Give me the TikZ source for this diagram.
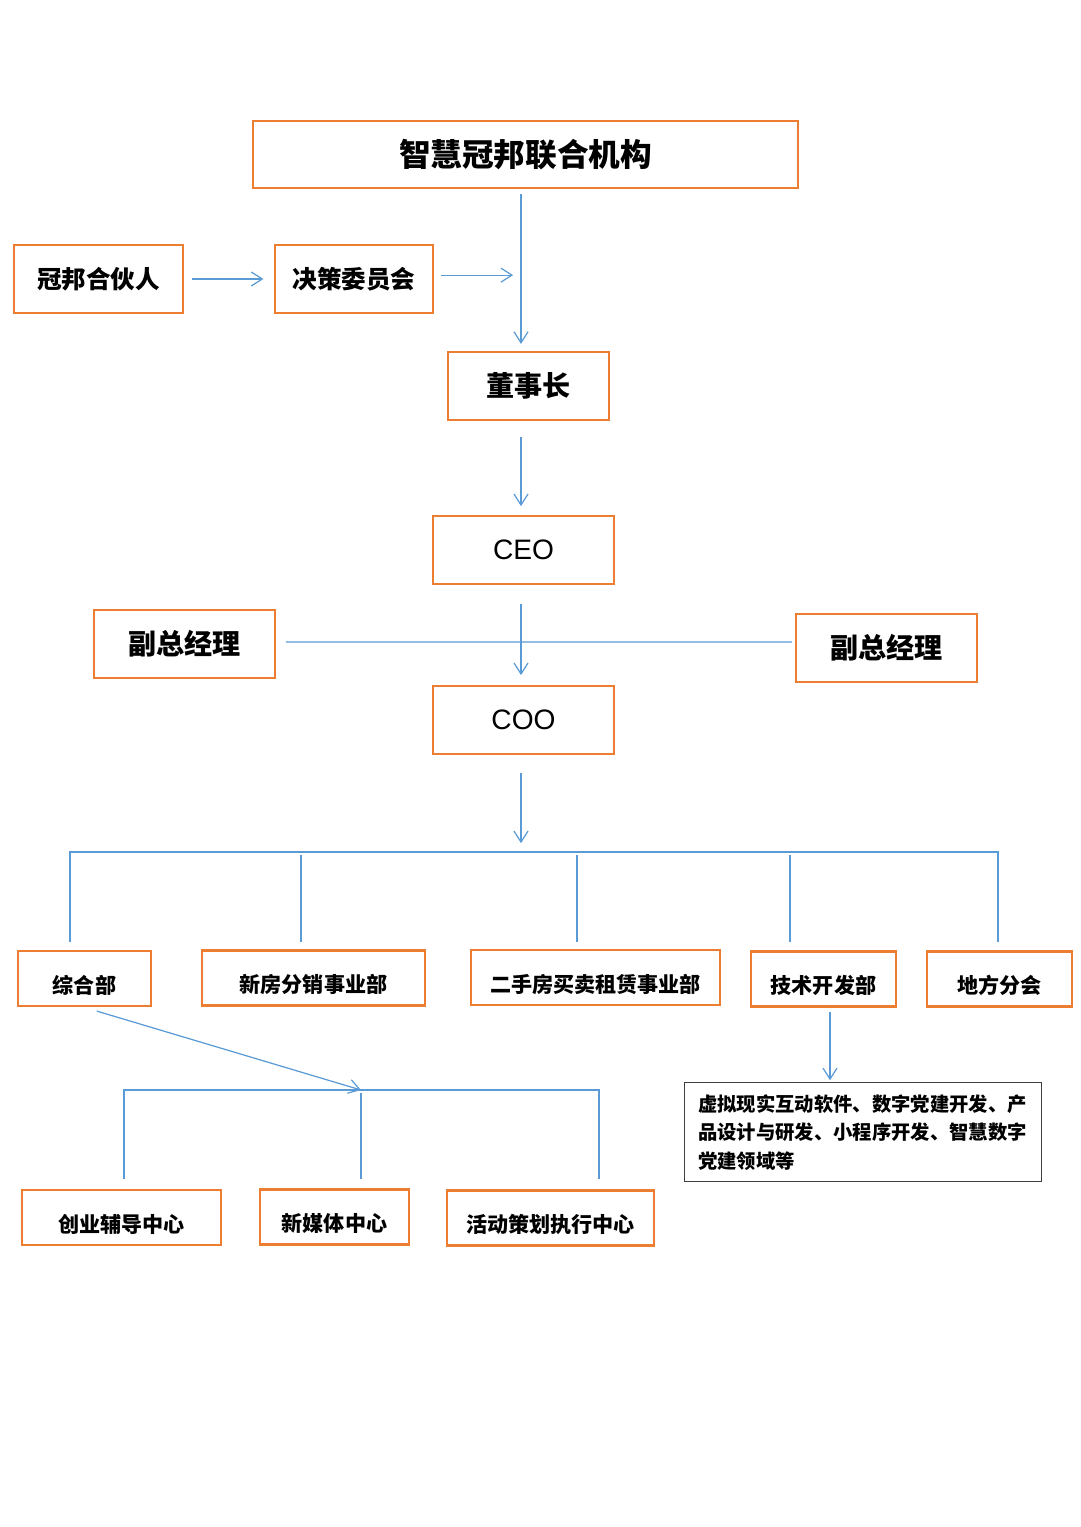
\documentclass[tikz,border=0pt]{standalone}
\usepackage{fontspec}
\setmainfont{Liberation Sans}
\newfontfamily\cjk{Noto Sans CJK SC}
\usetikzlibrary{arrows.meta,positioning}
\definecolor{boxorange}{HTML}{ED7D31}
\definecolor{lineblue}{HTML}{5B9BD5}

\begin{document}
\begin{tikzpicture}[
  x=0.02cm, y=-0.02cm,
  box/.style={draw=boxorange, line width=1.2pt, fill=white, inner sep=0pt, minimum height=1.36cm, font=\cjk\bfseries\fontsize{14}{17}\selectfont},
  big/.style={font=\cjk\bfseries\fontsize{16}{19}\selectfont},
  latin/.style={font=\fontsize{16}{19}\selectfont},
  dept/.style={box, minimum height=1.1cm, text height=17pt, text depth=0pt, font=\cjk\bfseries\fontsize{12}{14}\selectfont},
  link/.style={draw=lineblue, line width=0.7pt},
  arr/.style={link, -{Straight Barb[length=2.2mm, width=2.8mm]}}]
\useasboundingbox (0,0) rectangle (1080,1527);
% top of the chart
\node[box, minimum width=10.9cm, minimum height=1.34cm, font=\cjk\bfseries\fontsize{18}{22}\selectfont] (org) at (525.5,154.5) {智慧冠邦联合机构};
\node[box, minimum width=3.38cm] (partner) at (98.5,279) {冠邦合伙人};
\node[box, minimum width=3.16cm] (board) at (354,279) {决策委员会};
\node[box, big, minimum width=3.22cm] (chair) at (528.5,386) {董事长};
\node[box, latin, minimum width=3.62cm] (ceo) at (523.5,550) {CEO};
\node[box, big, minimum width=3.62cm] (vpl) at (184.5,644) {副总经理};
\node[box, big, minimum width=3.62cm] (vpr) at (886.5,648) {副总经理};
\node[box, latin, minimum width=3.62cm] (coo) at (523.5,720) {COO};
% departments
\node[dept, minimum width=2.66cm] (gen) at (84.5,978.5) {综合部};
\node[dept, minimum width=4.46cm] (newh) at (313.5,978) {新房分销事业部};
\node[dept, minimum width=4.98cm] (used) at (595.5,977.5) {二手房买卖租赁事业部};
\node[dept, minimum width=2.9cm] (tech) at (823.5,979) {技术开发部};
\node[dept, minimum width=2.9cm] (local) at (999.5,979) {地方分会};
% centres under 综合部
\node[dept, minimum width=3.98cm] (start) at (121.5,1217.5) {创业辅导中心};
\node[dept, minimum width=2.98cm] (media) at (334.5,1217) {新媒体中心};
\node[dept, minimum width=4.14cm] (event) at (550.5,1218) {活动策划执行中心};
\node[draw=black!75, line width=0.8pt, anchor=north west, minimum width=7.14cm, minimum height=1.98cm, inner xsep=0.26cm, text width=6.6cm, align=left, font=\cjk\bfseries\fontsize{11}{16.2}\selectfont] (scope) at (684,1082) {虚拟现实互动软件、数字党建开发、产\\品设计与研发、小程序开发、智慧数字\\党建领域等};
% main spine
\coordinate (spine) at (521,0);
\coordinate (bus) at (0,852);
\coordinate (b2) at ([yshift=2.2pt]board.east);
\draw[arr, shorten <=3pt, shorten >=4pt] (spine |- org.south) -- (spine |- chair.north);
\draw[arr, shorten <=4.5pt, shorten >=6pt] (partner) -- (board);
\draw[arr, shorten <=4pt, shorten >=4.5pt] (b2) -- (spine |- b2);
\draw[arr, shorten <=9pt, shorten >=5pt] (spine |- chair.south) -- (spine |- ceo.north);
\draw[link] ([xshift=5.6pt,yshift=1.1pt]vpl.east) -- ([xshift=-1.7pt,yshift=3.4pt]vpr.west);
\draw[arr, shorten <=11pt, shorten >=5.6pt] (spine |- ceo.south) -- (spine |- coo.north);
\draw[arr, shorten <=10pt, shorten >=5pt] (spine |- coo.south) -- (spine |- bus);
% department bus
\foreach \n/\x in {gen/70, newh/301, used/577, tech/790, local/998}
  \coordinate (\n-in) at (\x,942);
\draw[link] (gen-in) |- (local-in |- bus) -- (local-in);
\foreach \n in {newh, used, tech}
  \draw[link] (\n-in) -- ++(0,-87);
% sub bus
\coordinate (sub) at (361,1090);
\coordinate (gs) at ([xshift=7pt,yshift=-2.3pt]gen.south);
\draw[arr] (gs) -- (sub);
\foreach \n/\x in {start/124, media/361, event/599}
  \coordinate (\n-in) at (\x,1179);
\draw[link] (start-in) |- (event-in |- sub) -- (event-in);
\draw[link] (media-in) -- ++(0,-86);
\coordinate (ts) at ([xshift=3.7pt,yshift=-2.3pt]tech.south);
\draw[arr, shorten >=1pt] (ts) -- (ts |- scope.north);
\end{tikzpicture}
\end{document}
